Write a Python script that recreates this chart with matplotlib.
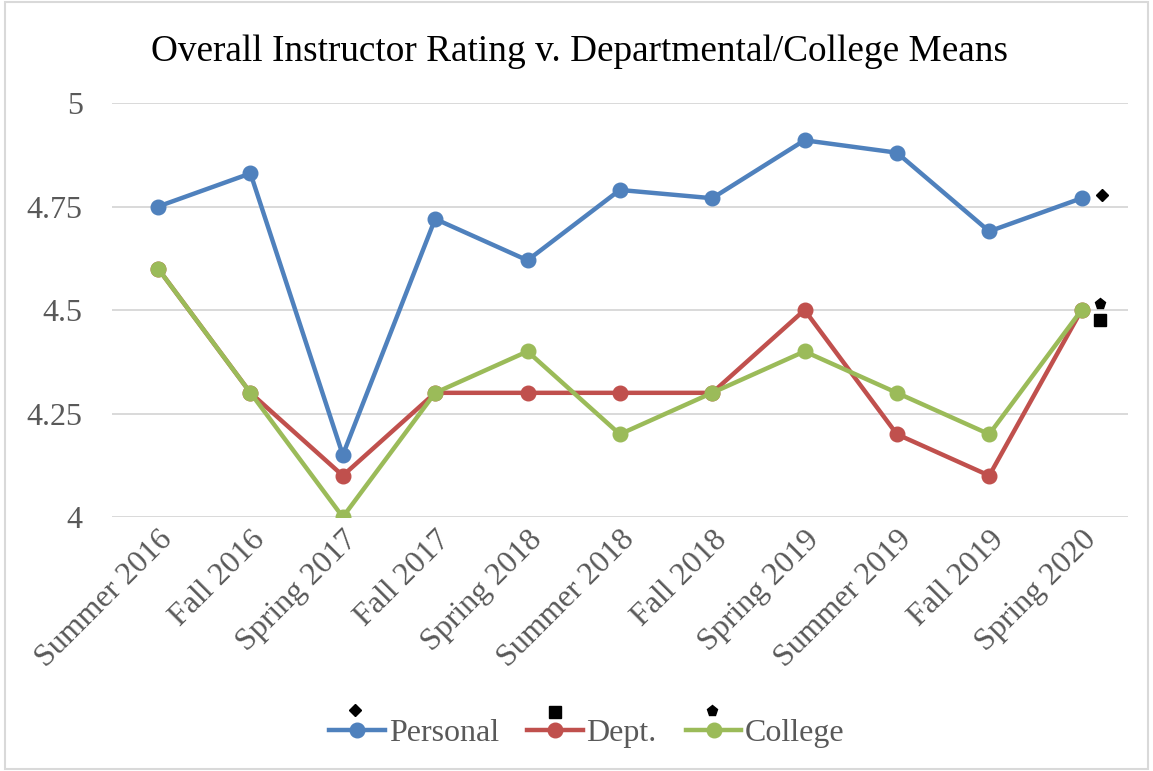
"""
Overall instructor rating vs departmental / college means
"""

import matplotlib
matplotlib.use("Agg")
from matplotlib import pyplot as plt
from matplotlib.lines import Line2D
from matplotlib.patches import Rectangle
import matplotlib.transforms as mtransforms

# Datos
terms = ["Summer 2016", "Fall 2016", "Spring 2017", "Fall 2017", "Spring 2018",
         "Summer 2018", "Fall 2018", "Spring 2019", "Summer 2019", "Fall 2019",
         "Spring 2020"]
personal = [4.75, 4.83, 4.15, 4.72, 4.62, 4.79, 4.77, 4.91, 4.88, 4.69, 4.77]
dept = [4.6, 4.3, 4.1, 4.3, 4.3, 4.3, 4.3, 4.5, 4.2, 4.1, 4.5]
college = [4.6, 4.3, 4.0, 4.3, 4.4, 4.2, 4.3, 4.4, 4.3, 4.2, 4.5]
yticks = [4, 4.25, 4.5, 4.75, 5]
ytick_labels = ["4", "4.25", "4.5", "4.75", "5"]

c_pers = "#4F81BD"
c_dept = "#C0504D"
c_coll = "#9BBB59"
gris = "#595959"

plt.rcParams["font.family"] = ["Liberation Serif", "DejaVu Serif"]

fig = plt.figure(figsize=(11.53, 7.71), dpi=100)
ax = fig.add_axes([0.0971, 0.3294, 0.881, 0.537])

x = list(range(len(terms)))
ax.plot(x, personal, color=c_pers, lw=3.2, marker="o", ms=10.5, label="Personal", zorder=3)
ax.plot(x, dept, color=c_dept, lw=3.2, marker="o", ms=10.5, label="Dept.", zorder=3)
ax.plot(x, college, color=c_coll, lw=3.2, marker="o", ms=10.5, label="College", zorder=4)

# simbolos negros junto al ultimo punto
def simbolo(xv, yv, m, dx, dy, s):
    tr = mtransforms.offset_copy(ax.transData, fig=fig, x=dx, y=dy, units="dots")
    ax.plot([xv], [yv], marker=m, color="black", ms=s, ls="none", transform=tr,
            clip_on=False, zorder=5)

simbolo(x[-1], personal[-1], "D", 20, 3, 6.5)
simbolo(x[-1], college[-1], "p", 18, 6, 8)
simbolo(x[-1], dept[-1], "s", 18, -10, 8)

ax.set_xlim(-0.5, len(terms) - 0.5)
ax.set_ylim(4, 5)
ax.set_yticks(yticks)
ax.set_yticklabels(ytick_labels)
ax.set_xticks(x)
ax.set_xticklabels(terms, rotation=45, ha="right", rotation_mode="anchor")
ax.tick_params(axis="both", length=0, labelsize=23, colors=gris)
ax.tick_params(axis="y", pad=21)
ax.tick_params(axis="x", pad=6)
ax.grid(axis="y", color="#d9d9d9", lw=1.4)
ax.set_axisbelow(True)
for s in ax.spines.values():
    s.set_visible(False)

fig.text(0.503, 0.933, "Overall Instructor Rating v. Departmental/College Means",
         ha="center", va="center", fontsize=26.8, color="black")

leg = ax.legend(loc="center", bbox_to_anchor=(0.509, 0.049), bbox_transform=fig.transFigure,
                ncol=3, frameon=False, fontsize=23, handlelength=1.75, handletextpad=0.1,
                columnspacing=0.9, labelcolor=gris)

# simbolos negros sobre la leyenda
fig.add_artist(Line2D([355 / 1153], [1 - 710 / 771], marker="D", color="black", ms=6.5,
                      transform=fig.transFigure))
fig.add_artist(Line2D([555 / 1153], [1 - 712 / 771], marker="s", color="black", ms=8,
                      transform=fig.transFigure))
fig.add_artist(Line2D([712 / 1153], [1 - 711 / 771], marker="p", color="black", ms=8,
                      transform=fig.transFigure))

# borde
fig.add_artist(Rectangle((0.004, 0.003), 0.992, 0.994, transform=fig.transFigure,
                         fill=False, ec="#d9d9d9", lw=1.5))

plt.savefig("out.png", dpi=100)
